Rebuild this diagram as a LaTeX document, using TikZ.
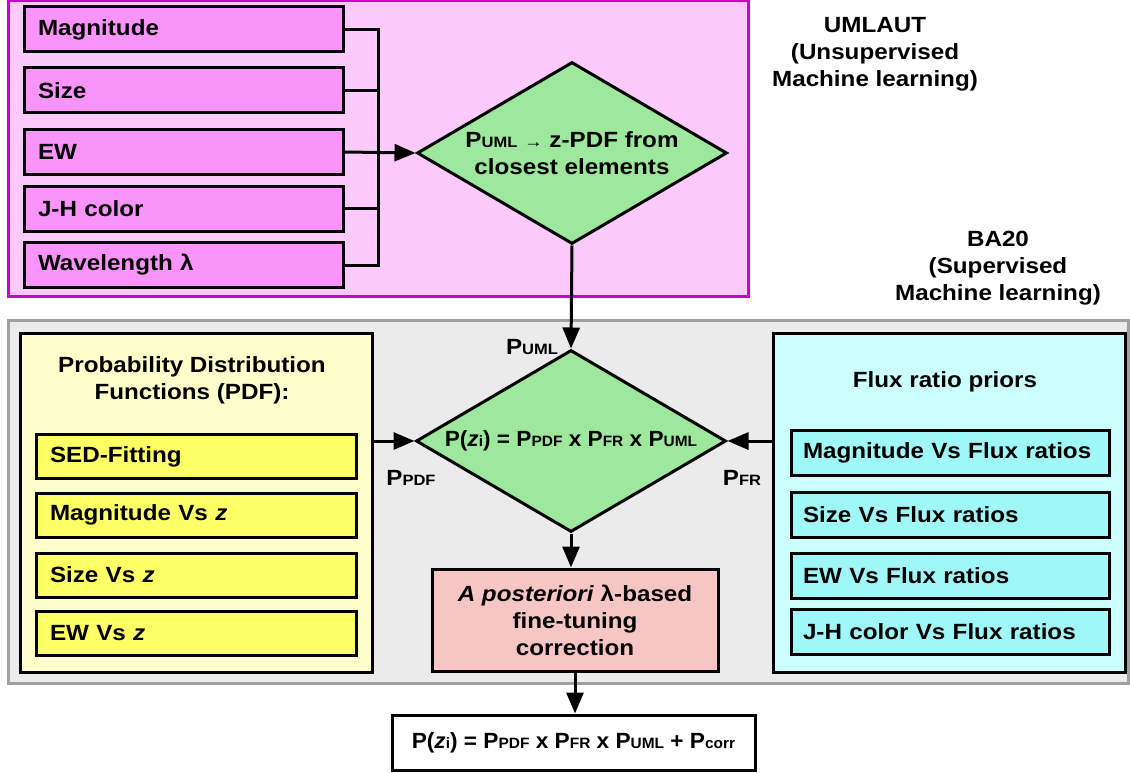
\documentclass[tikz,border=0pt]{standalone}
\usepackage{fontspec}
\setmainfont{Liberation Sans}[FakeStretch=1.1]
\newfontfamily\formfont{Liberation Sans}[FakeStretch=1.03]
\usetikzlibrary{shapes.geometric,arrows.meta,calc}
\definecolor{pinkbg}{HTML}{FCCAFC}
\definecolor{pinkedge}{HTML}{CC00CC}
\definecolor{pinkbox}{HTML}{FA94FA}
\definecolor{greenfill}{HTML}{9DE89D}
\definecolor{graybg}{HTML}{EBEBEB}
\definecolor{grayedge}{HTML}{A0A0A0}
\definecolor{yelbg}{HTML}{FFFFCC}
\definecolor{yelbox}{HTML}{FFFF66}
\definecolor{cyanbg}{HTML}{CCFFFF}
\definecolor{cyanbox}{HTML}{9FF7F7}
\definecolor{corrfill}{HTML}{F7C6C4}
\newcommand{\sbs}[1]{{\fontsize{15}{15}\selectfont #1}}
\begin{document}
\begin{tikzpicture}[x=1pt,y=-1pt,
  font=\fontsize{22}{27}\selectfont\bfseries,
  boxbase/.style={draw=black, line width=3, inner ysep=0, align=left, anchor=center},
  pbox/.style={boxbase, fill=pinkbox, minimum height=45, text width=291, inner xsep=14},
  ybox/.style={boxbase, fill=yelbox, minimum height=44, text width=292, inner xsep=14},
  cbox/.style={boxbase, fill=cyanbox, minimum height=45, text width=294, inner xsep=12},
  dia/.style={diamond, draw=black, line width=3, fill=greenfill, aspect=1.7, inner sep=0,
              minimum width=310, minimum height=182, align=center},
  conn/.style={line width=3, draw=black},
  arr/.style={conn, -{Triangle[length=21pt,width=17pt]}},
  lab/.style={align=center, inner sep=0}
]
\useasboundingbox (0,0) rectangle (1130,773);
% backgrounds
\draw[line width=3, draw=pinkedge, fill=pinkbg] (8,1) rectangle (748,296);
\draw[line width=3, draw=grayedge, fill=graybg] (8,320) rectangle (1128,683);
\node[draw=black, line width=3, fill=yelbg, minimum width=352, minimum height=339, inner sep=0] (yel) at (196,502.5) {};
\node[draw=black, line width=3, fill=cyanbg, minimum width=352, minimum height=339, inner sep=0] (cyn) at (949,502.5) {};

% UMLAUT inputs
\node[pbox] (mag) at (183.5,29.5) {Magnitude};
\node[pbox] (siz) at (183.5,90.5) {Size};
\node[pbox] (ew)  at (183.5,152) {EW};
\node[pbox] (jh)  at (183.5,208.5) {J-H color};
\node[pbox] (wl)  at (183.5,265) {Wavelength λ};
\coordinate (bus) at (378,152);
\draw[conn] (mag.east) -| (bus) |- (wl.east);
\draw[conn] (siz.east) -- (siz.east -| bus);
\draw[conn] (jh.east) -- (jh.east -| bus);

\node[dia] (d1) at (572,153) {P\sbs{UML} {\fontsize{17}{17}\selectfont →} z-PDF from\\closest elements};
\draw[arr] (ew.east) -- (d1.west);

\node[lab] (uml) at (875,54) {UMLAUT\\(Unsupervised\\Machine learning)};
\node[lab] (ba) at (998,268) {BA20\\(Supervised\\Machine learning)};

% central diamond
\node[dia] (d2) at (571,441) {\formfont P(\textit{z}\sbs{i}) = P\sbs{PDF} x P\sbs{FR} x P\sbs{UML}};
\draw[arr] (d1.south) -- (d2.north);
\node[lab] (lu) at (532,347) {P\sbs{UML}};
\node[lab] (lp) at (411,478) {P\sbs{PDF}};
\node[lab] (lf) at (742,478) {P\sbs{FR}};

% PDF box
\node[lab] (pdft) at (192,380) {Probability Distribution\\Functions (PDF):};
\node[ybox] (sed) at (196,456.5) {SED-Fitting};
\node[ybox] (ymz) at (196,515) {Magnitude Vs \textit{z}};
\node[ybox] (ysz) at (196,575) {Size Vs \textit{z}};
\node[ybox] (yew) at (196,633.5) {EW Vs \textit{z}};
\draw[arr] (yel.east |- d2.west) -- (d2.west);

% Flux ratio box
\node[lab] (frt) at (945,382) {Flux ratio priors};
\node[cbox] (cmf) at (950,453) {Magnitude Vs Flux ratios};
\node[cbox] (csf) at (950,514.5) {Size Vs Flux ratios};
\node[cbox] (cef) at (950,575.5) {EW Vs Flux ratios};
\node[cbox] (cjf) at (950,632) {J-H color Vs Flux ratios};
\draw[arr] (cyn.west |- d2.east) -- (d2.east);

% correction
\node[draw=black, line width=3, fill=corrfill, minimum width=286, minimum height=102, inner sep=0, align=center] (corr) at (575,620)
  {\textit{A posteriori} λ-based\\fine-tuning\\correction};
\draw[arr] (d2.south) -- (d2.south |- corr.north);

\node[draw=black, line width=3, fill=white, minimum width=363, minimum height=55, inner sep=0] (fin) at (573.5,742.5)
  {\formfont P(\textit{z}\sbs{i}) = P\sbs{PDF} x P\sbs{FR} x P\sbs{UML} + P\sbs{corr}};
\draw[arr] (corr.south) -- (corr.south |- fin.north);
\end{tikzpicture}
\end{document}
